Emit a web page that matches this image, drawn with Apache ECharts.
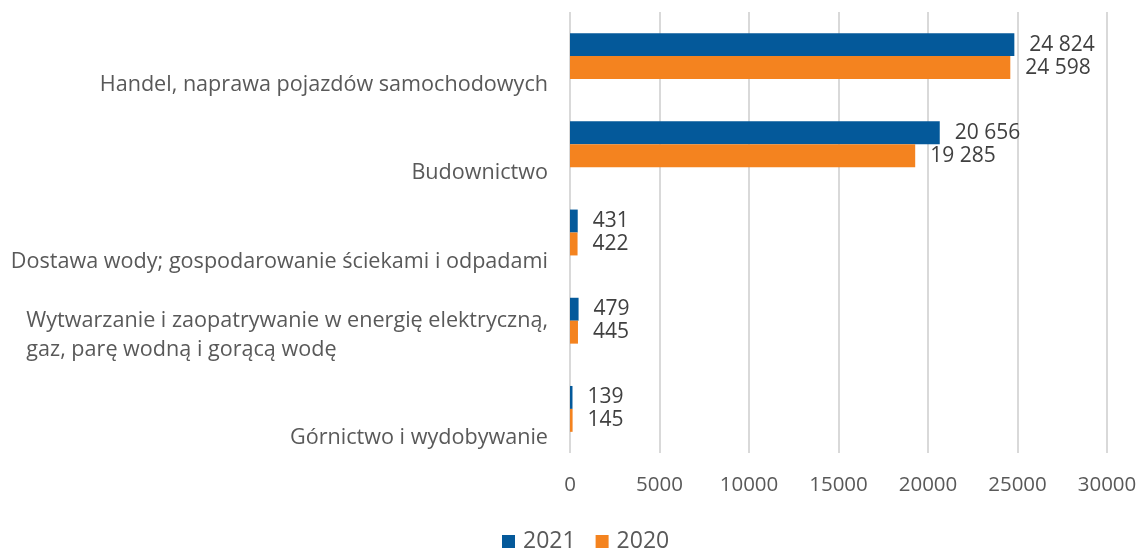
<!DOCTYPE html>
<html>
<head>
<meta charset="utf-8">
<script src="https://cdn.jsdelivr.net/npm/echarts@6/dist/echarts.min.js"></script>
<style>
html,body{margin:0;padding:0;background:#fff;}
#chart{width:1141px;height:548px;}
</style>
</head>
<body>
<div id="chart"></div>
<script>
// Categories listed bottom-to-top (ECharts category y axis starts at the bottom)
const categories = [
  'Górnictwo i wydobywanie',
  'Wytwarzanie i zaopatrywanie w energię elektryczną,\ngaz, parę wodną i gorącą wodę',
  'Dostawa wody; gospodarowanie ściekami i odpadami',
  'Budownictwo',
  'Handel, naprawa pojazdów samochodowych'
];
const values2021 = [139, 479, 431, 20656, 24824];
const values2020 = [145, 445, 422, 19285, 24598];
const seriesNames = ['2021', '2020'];
const xTicks = [0, 5000, 10000, 15000, 20000, 25000, 30000];

const FONT = 'Open Sans';
const BLUE = '#04599A';
const ORANGE = '#F4831F';
const CAT_SIZE = 21.6;

function fmt(v) {
  return String(v).replace(/\B(?=(\d{3})+(?!\d))/g, ' ');
}

const chart = echarts.init(document.getElementById('chart'), null, {renderer: 'canvas'});
const labelStyle = {
  show: true,
  position: 'right',
  distance: 15,
  fontFamily: FONT,
  fontSize: 21,
  color: '#404040',
  formatter: p => fmt(p.value)
};
chart.setOption({
  animation: false,
  backgroundColor: '#ffffff',
  textStyle: {fontFamily: FONT},
  grid: {left: 570, right: 34, top: 12, bottom: 95, containLabel: false},
  legend: {
    data: seriesNames,
    top: 530,
    left: 502,
    padding: 0,
    itemWidth: 13,
    itemHeight: 13,
    itemGap: 20,
    icon: 'rect',
    textStyle: {fontFamily: FONT, fontSize: 23, color: '#595959', padding: [0, 0, 0, 3]}
  },
  xAxis: {
    type: 'value',
    min: xTicks[0],
    max: xTicks[xTicks.length - 1],
    interval: xTicks[1] - xTicks[0],
    axisLine: {show: false},
    axisTick: {show: false},
    splitLine: {show: true, lineStyle: {color: '#d9d9d9', width: 2}},
    axisLabel: {
      fontFamily: FONT, fontSize: 20.5, color: '#595959', margin: 22,
      formatter: v => String(v)
    }
  },
  yAxis: {
    type: 'category',
    data: categories,
    axisLine: {show: false},
    axisTick: {show: false},
    splitLine: {show: false},
    axisLabel: {
      interval: 0,
      margin: 22,
      color: '#595959',
      fontFamily: FONT,
      fontSize: CAT_SIZE,
      lineHeight: 29,
      // Excel places these labels below the band centre; leading blank lines reproduce that.
      // Multi-line labels are left-aligned within their block, as in the original.
      formatter: function (v) {
        if (v.indexOf('\n') >= 0) {
          return '\n' + v.split('\n').map(s => '{l|' + s + '}').join('\n');
        }
        return '\n\n' + v;
      },
      rich: {
        l: {align: 'left', fontFamily: FONT, fontSize: CAT_SIZE, color: '#595959', lineHeight: 29}
      }
    }
  },
  series: [
    {
      name: seriesNames[0],
      type: 'bar',
      data: values2021,
      itemStyle: {color: BLUE},
      barGap: '0%',
      barCategoryGap: '48%',
      label: labelStyle
    },
    {
      name: seriesNames[1],
      type: 'bar',
      data: values2020,
      itemStyle: {color: ORANGE},
      barGap: '0%',
      barCategoryGap: '48%',
      label: labelStyle
    }
  ]
});
</script>
</body>
</html>
